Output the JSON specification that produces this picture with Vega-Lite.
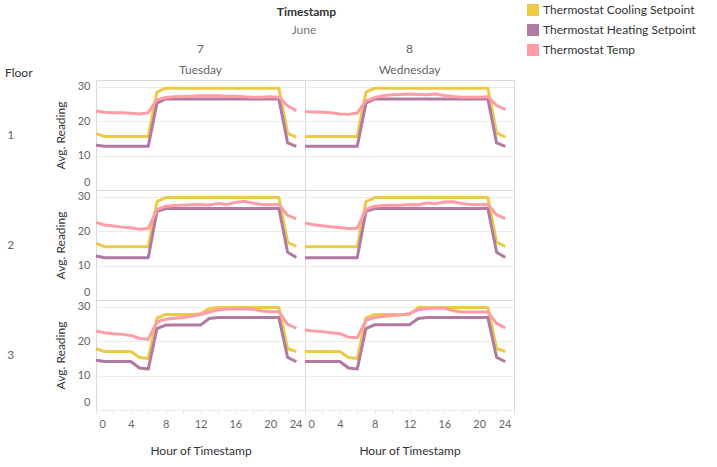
{
  "$schema": "https://vega.github.io/schema/vega-lite/v6.json",
  "padding": {"left": 5, "top": 3, "right": 5, "bottom": 5},
  "bounds": "flush",
  "title": {"text": "Timestamp", "fontSize": 12, "fontWeight": "bold", "color": "#333", "anchor": "middle", "offset": -16, "dx": -44},
  "config": {
    "font": "Lato",
    "view": {"stroke": "#d9d9d9"},
    "axis": {"labelColor": "#666", "labelFontSize": 11, "titleColor": "#333", "titleFontSize": 12, "titleFontWeight": "normal", "domain": false, "gridColor": "#ececec", "tickColor": "#e6e6e6"},
    "legend": {"labelFontSize": 12, "labelColor": "#333"}
  },
  "data": {"values": [
    {"Floor":1,"Date":"7 Tuesday","Hour":0,"Cooling Setpoint":16.4,"Heating Setpoint":13.0,"Temp":23.0},
    {"Floor":1,"Date":"7 Tuesday","Hour":1,"Cooling Setpoint":15.6,"Heating Setpoint":12.7,"Temp":22.6},
    {"Floor":1,"Date":"7 Tuesday","Hour":2,"Cooling Setpoint":15.6,"Heating Setpoint":12.7,"Temp":22.5},
    {"Floor":1,"Date":"7 Tuesday","Hour":3,"Cooling Setpoint":15.6,"Heating Setpoint":12.7,"Temp":22.5},
    {"Floor":1,"Date":"7 Tuesday","Hour":4,"Cooling Setpoint":15.6,"Heating Setpoint":12.7,"Temp":22.3},
    {"Floor":1,"Date":"7 Tuesday","Hour":5,"Cooling Setpoint":15.6,"Heating Setpoint":12.7,"Temp":22.1},
    {"Floor":1,"Date":"7 Tuesday","Hour":6,"Cooling Setpoint":15.6,"Heating Setpoint":12.7,"Temp":22.5},
    {"Floor":1,"Date":"7 Tuesday","Hour":7,"Cooling Setpoint":28.5,"Heating Setpoint":25.3,"Temp":26.2},
    {"Floor":1,"Date":"7 Tuesday","Hour":8,"Cooling Setpoint":29.6,"Heating Setpoint":26.5,"Temp":26.9},
    {"Floor":1,"Date":"7 Tuesday","Hour":9,"Cooling Setpoint":29.6,"Heating Setpoint":26.5,"Temp":27.1},
    {"Floor":1,"Date":"7 Tuesday","Hour":10,"Cooling Setpoint":29.6,"Heating Setpoint":26.5,"Temp":27.2},
    {"Floor":1,"Date":"7 Tuesday","Hour":11,"Cooling Setpoint":29.6,"Heating Setpoint":26.5,"Temp":27.3},
    {"Floor":1,"Date":"7 Tuesday","Hour":12,"Cooling Setpoint":29.6,"Heating Setpoint":26.5,"Temp":27.4},
    {"Floor":1,"Date":"7 Tuesday","Hour":13,"Cooling Setpoint":29.6,"Heating Setpoint":26.5,"Temp":27.4},
    {"Floor":1,"Date":"7 Tuesday","Hour":14,"Cooling Setpoint":29.6,"Heating Setpoint":26.5,"Temp":27.4},
    {"Floor":1,"Date":"7 Tuesday","Hour":15,"Cooling Setpoint":29.6,"Heating Setpoint":26.5,"Temp":27.3},
    {"Floor":1,"Date":"7 Tuesday","Hour":16,"Cooling Setpoint":29.6,"Heating Setpoint":26.5,"Temp":27.3},
    {"Floor":1,"Date":"7 Tuesday","Hour":17,"Cooling Setpoint":29.6,"Heating Setpoint":26.5,"Temp":27.1},
    {"Floor":1,"Date":"7 Tuesday","Hour":18,"Cooling Setpoint":29.6,"Heating Setpoint":26.5,"Temp":27.0},
    {"Floor":1,"Date":"7 Tuesday","Hour":19,"Cooling Setpoint":29.6,"Heating Setpoint":26.5,"Temp":27.0},
    {"Floor":1,"Date":"7 Tuesday","Hour":20,"Cooling Setpoint":29.6,"Heating Setpoint":26.5,"Temp":27.1},
    {"Floor":1,"Date":"7 Tuesday","Hour":21,"Cooling Setpoint":29.6,"Heating Setpoint":26.5,"Temp":27.0},
    {"Floor":1,"Date":"7 Tuesday","Hour":22,"Cooling Setpoint":16.5,"Heating Setpoint":13.7,"Temp":24.5},
    {"Floor":1,"Date":"7 Tuesday","Hour":23,"Cooling Setpoint":15.4,"Heating Setpoint":12.7,"Temp":23.1},
    {"Floor":1,"Date":"8 Wednesday","Hour":0,"Cooling Setpoint":15.6,"Heating Setpoint":12.7,"Temp":22.8},
    {"Floor":1,"Date":"8 Wednesday","Hour":1,"Cooling Setpoint":15.6,"Heating Setpoint":12.7,"Temp":22.7},
    {"Floor":1,"Date":"8 Wednesday","Hour":2,"Cooling Setpoint":15.6,"Heating Setpoint":12.7,"Temp":22.6},
    {"Floor":1,"Date":"8 Wednesday","Hour":3,"Cooling Setpoint":15.6,"Heating Setpoint":12.7,"Temp":22.5},
    {"Floor":1,"Date":"8 Wednesday","Hour":4,"Cooling Setpoint":15.6,"Heating Setpoint":12.7,"Temp":22.1},
    {"Floor":1,"Date":"8 Wednesday","Hour":5,"Cooling Setpoint":15.6,"Heating Setpoint":12.7,"Temp":22.0},
    {"Floor":1,"Date":"8 Wednesday","Hour":6,"Cooling Setpoint":15.6,"Heating Setpoint":12.7,"Temp":22.4},
    {"Floor":1,"Date":"8 Wednesday","Hour":7,"Cooling Setpoint":28.5,"Heating Setpoint":25.3,"Temp":25.9},
    {"Floor":1,"Date":"8 Wednesday","Hour":8,"Cooling Setpoint":29.6,"Heating Setpoint":26.5,"Temp":26.9},
    {"Floor":1,"Date":"8 Wednesday","Hour":9,"Cooling Setpoint":29.6,"Heating Setpoint":26.5,"Temp":27.4},
    {"Floor":1,"Date":"8 Wednesday","Hour":10,"Cooling Setpoint":29.6,"Heating Setpoint":26.5,"Temp":27.7},
    {"Floor":1,"Date":"8 Wednesday","Hour":11,"Cooling Setpoint":29.6,"Heating Setpoint":26.5,"Temp":27.8},
    {"Floor":1,"Date":"8 Wednesday","Hour":12,"Cooling Setpoint":29.6,"Heating Setpoint":26.5,"Temp":27.9},
    {"Floor":1,"Date":"8 Wednesday","Hour":13,"Cooling Setpoint":29.6,"Heating Setpoint":26.5,"Temp":27.8},
    {"Floor":1,"Date":"8 Wednesday","Hour":14,"Cooling Setpoint":29.6,"Heating Setpoint":26.5,"Temp":27.7},
    {"Floor":1,"Date":"8 Wednesday","Hour":15,"Cooling Setpoint":29.6,"Heating Setpoint":26.5,"Temp":27.9},
    {"Floor":1,"Date":"8 Wednesday","Hour":16,"Cooling Setpoint":29.6,"Heating Setpoint":26.5,"Temp":27.5},
    {"Floor":1,"Date":"8 Wednesday","Hour":17,"Cooling Setpoint":29.6,"Heating Setpoint":26.5,"Temp":27.2},
    {"Floor":1,"Date":"8 Wednesday","Hour":18,"Cooling Setpoint":29.6,"Heating Setpoint":26.5,"Temp":27.0},
    {"Floor":1,"Date":"8 Wednesday","Hour":19,"Cooling Setpoint":29.6,"Heating Setpoint":26.5,"Temp":27.0},
    {"Floor":1,"Date":"8 Wednesday","Hour":20,"Cooling Setpoint":29.6,"Heating Setpoint":26.5,"Temp":27.0},
    {"Floor":1,"Date":"8 Wednesday","Hour":21,"Cooling Setpoint":29.6,"Heating Setpoint":26.5,"Temp":27.1},
    {"Floor":1,"Date":"8 Wednesday","Hour":22,"Cooling Setpoint":16.6,"Heating Setpoint":13.7,"Temp":24.6},
    {"Floor":1,"Date":"8 Wednesday","Hour":23,"Cooling Setpoint":15.4,"Heating Setpoint":12.7,"Temp":23.4},
    {"Floor":2,"Date":"7 Tuesday","Hour":0,"Cooling Setpoint":16.5,"Heating Setpoint":12.8,"Temp":22.6},
    {"Floor":2,"Date":"7 Tuesday","Hour":1,"Cooling Setpoint":15.5,"Heating Setpoint":12.3,"Temp":21.8},
    {"Floor":2,"Date":"7 Tuesday","Hour":2,"Cooling Setpoint":15.5,"Heating Setpoint":12.3,"Temp":21.5},
    {"Floor":2,"Date":"7 Tuesday","Hour":3,"Cooling Setpoint":15.5,"Heating Setpoint":12.3,"Temp":21.2},
    {"Floor":2,"Date":"7 Tuesday","Hour":4,"Cooling Setpoint":15.5,"Heating Setpoint":12.3,"Temp":21.0},
    {"Floor":2,"Date":"7 Tuesday","Hour":5,"Cooling Setpoint":15.5,"Heating Setpoint":12.3,"Temp":20.6},
    {"Floor":2,"Date":"7 Tuesday","Hour":6,"Cooling Setpoint":15.5,"Heating Setpoint":12.3,"Temp":20.8},
    {"Floor":2,"Date":"7 Tuesday","Hour":7,"Cooling Setpoint":28.6,"Heating Setpoint":25.8,"Temp":26.3},
    {"Floor":2,"Date":"7 Tuesday","Hour":8,"Cooling Setpoint":29.8,"Heating Setpoint":26.6,"Temp":27.3},
    {"Floor":2,"Date":"7 Tuesday","Hour":9,"Cooling Setpoint":29.8,"Heating Setpoint":26.6,"Temp":27.5},
    {"Floor":2,"Date":"7 Tuesday","Hour":10,"Cooling Setpoint":29.8,"Heating Setpoint":26.6,"Temp":27.6},
    {"Floor":2,"Date":"7 Tuesday","Hour":11,"Cooling Setpoint":29.8,"Heating Setpoint":26.6,"Temp":27.7},
    {"Floor":2,"Date":"7 Tuesday","Hour":12,"Cooling Setpoint":29.8,"Heating Setpoint":26.6,"Temp":27.8},
    {"Floor":2,"Date":"7 Tuesday","Hour":13,"Cooling Setpoint":29.8,"Heating Setpoint":26.6,"Temp":27.6},
    {"Floor":2,"Date":"7 Tuesday","Hour":14,"Cooling Setpoint":29.8,"Heating Setpoint":26.6,"Temp":28.1},
    {"Floor":2,"Date":"7 Tuesday","Hour":15,"Cooling Setpoint":29.8,"Heating Setpoint":26.6,"Temp":27.8},
    {"Floor":2,"Date":"7 Tuesday","Hour":16,"Cooling Setpoint":29.8,"Heating Setpoint":26.6,"Temp":28.4},
    {"Floor":2,"Date":"7 Tuesday","Hour":17,"Cooling Setpoint":29.8,"Heating Setpoint":26.6,"Temp":28.7},
    {"Floor":2,"Date":"7 Tuesday","Hour":18,"Cooling Setpoint":29.8,"Heating Setpoint":26.6,"Temp":28.2},
    {"Floor":2,"Date":"7 Tuesday","Hour":19,"Cooling Setpoint":29.8,"Heating Setpoint":26.6,"Temp":27.8},
    {"Floor":2,"Date":"7 Tuesday","Hour":20,"Cooling Setpoint":29.8,"Heating Setpoint":26.6,"Temp":27.7},
    {"Floor":2,"Date":"7 Tuesday","Hour":21,"Cooling Setpoint":29.8,"Heating Setpoint":26.6,"Temp":27.8},
    {"Floor":2,"Date":"7 Tuesday","Hour":22,"Cooling Setpoint":16.8,"Heating Setpoint":13.9,"Temp":24.6},
    {"Floor":2,"Date":"7 Tuesday","Hour":23,"Cooling Setpoint":15.6,"Heating Setpoint":12.4,"Temp":23.6},
    {"Floor":2,"Date":"8 Wednesday","Hour":0,"Cooling Setpoint":15.5,"Heating Setpoint":12.3,"Temp":22.4},
    {"Floor":2,"Date":"8 Wednesday","Hour":1,"Cooling Setpoint":15.5,"Heating Setpoint":12.3,"Temp":21.9},
    {"Floor":2,"Date":"8 Wednesday","Hour":2,"Cooling Setpoint":15.5,"Heating Setpoint":12.3,"Temp":21.6},
    {"Floor":2,"Date":"8 Wednesday","Hour":3,"Cooling Setpoint":15.5,"Heating Setpoint":12.3,"Temp":21.3},
    {"Floor":2,"Date":"8 Wednesday","Hour":4,"Cooling Setpoint":15.5,"Heating Setpoint":12.3,"Temp":21.1},
    {"Floor":2,"Date":"8 Wednesday","Hour":5,"Cooling Setpoint":15.5,"Heating Setpoint":12.3,"Temp":20.8},
    {"Floor":2,"Date":"8 Wednesday","Hour":6,"Cooling Setpoint":15.5,"Heating Setpoint":12.3,"Temp":20.9},
    {"Floor":2,"Date":"8 Wednesday","Hour":7,"Cooling Setpoint":28.6,"Heating Setpoint":25.8,"Temp":26.4},
    {"Floor":2,"Date":"8 Wednesday","Hour":8,"Cooling Setpoint":29.8,"Heating Setpoint":26.6,"Temp":27.3},
    {"Floor":2,"Date":"8 Wednesday","Hour":9,"Cooling Setpoint":29.8,"Heating Setpoint":26.6,"Temp":27.5},
    {"Floor":2,"Date":"8 Wednesday","Hour":10,"Cooling Setpoint":29.8,"Heating Setpoint":26.6,"Temp":27.6},
    {"Floor":2,"Date":"8 Wednesday","Hour":11,"Cooling Setpoint":29.8,"Heating Setpoint":26.6,"Temp":27.6},
    {"Floor":2,"Date":"8 Wednesday","Hour":12,"Cooling Setpoint":29.8,"Heating Setpoint":26.6,"Temp":27.8},
    {"Floor":2,"Date":"8 Wednesday","Hour":13,"Cooling Setpoint":29.8,"Heating Setpoint":26.6,"Temp":27.7},
    {"Floor":2,"Date":"8 Wednesday","Hour":14,"Cooling Setpoint":29.8,"Heating Setpoint":26.6,"Temp":28.2},
    {"Floor":2,"Date":"8 Wednesday","Hour":15,"Cooling Setpoint":29.8,"Heating Setpoint":26.6,"Temp":28.0},
    {"Floor":2,"Date":"8 Wednesday","Hour":16,"Cooling Setpoint":29.8,"Heating Setpoint":26.6,"Temp":28.5},
    {"Floor":2,"Date":"8 Wednesday","Hour":17,"Cooling Setpoint":29.8,"Heating Setpoint":26.6,"Temp":28.6},
    {"Floor":2,"Date":"8 Wednesday","Hour":18,"Cooling Setpoint":29.8,"Heating Setpoint":26.6,"Temp":28.1},
    {"Floor":2,"Date":"8 Wednesday","Hour":19,"Cooling Setpoint":29.8,"Heating Setpoint":26.6,"Temp":27.8},
    {"Floor":2,"Date":"8 Wednesday","Hour":20,"Cooling Setpoint":29.8,"Heating Setpoint":26.6,"Temp":27.7},
    {"Floor":2,"Date":"8 Wednesday","Hour":21,"Cooling Setpoint":29.8,"Heating Setpoint":26.6,"Temp":27.8},
    {"Floor":2,"Date":"8 Wednesday","Hour":22,"Cooling Setpoint":16.8,"Heating Setpoint":13.9,"Temp":24.8},
    {"Floor":2,"Date":"8 Wednesday","Hour":23,"Cooling Setpoint":15.6,"Heating Setpoint":12.4,"Temp":23.7},
    {"Floor":3,"Date":"7 Tuesday","Hour":0,"Cooling Setpoint":17.9,"Heating Setpoint":14.5,"Temp":23.0},
    {"Floor":3,"Date":"7 Tuesday","Hour":1,"Cooling Setpoint":17.0,"Heating Setpoint":14.1,"Temp":22.5},
    {"Floor":3,"Date":"7 Tuesday","Hour":2,"Cooling Setpoint":17.0,"Heating Setpoint":14.1,"Temp":22.2},
    {"Floor":3,"Date":"7 Tuesday","Hour":3,"Cooling Setpoint":17.0,"Heating Setpoint":14.1,"Temp":22.0},
    {"Floor":3,"Date":"7 Tuesday","Hour":4,"Cooling Setpoint":17.0,"Heating Setpoint":14.1,"Temp":21.7},
    {"Floor":3,"Date":"7 Tuesday","Hour":5,"Cooling Setpoint":15.3,"Heating Setpoint":12.2,"Temp":20.8},
    {"Floor":3,"Date":"7 Tuesday","Hour":6,"Cooling Setpoint":15.0,"Heating Setpoint":11.9,"Temp":20.6},
    {"Floor":3,"Date":"7 Tuesday","Hour":7,"Cooling Setpoint":26.7,"Heating Setpoint":23.7,"Temp":25.6},
    {"Floor":3,"Date":"7 Tuesday","Hour":8,"Cooling Setpoint":27.8,"Heating Setpoint":24.7,"Temp":26.4},
    {"Floor":3,"Date":"7 Tuesday","Hour":9,"Cooling Setpoint":27.8,"Heating Setpoint":24.7,"Temp":26.7},
    {"Floor":3,"Date":"7 Tuesday","Hour":10,"Cooling Setpoint":27.8,"Heating Setpoint":24.7,"Temp":26.9},
    {"Floor":3,"Date":"7 Tuesday","Hour":11,"Cooling Setpoint":27.8,"Heating Setpoint":24.7,"Temp":27.3},
    {"Floor":3,"Date":"7 Tuesday","Hour":12,"Cooling Setpoint":28.0,"Heating Setpoint":24.7,"Temp":27.8},
    {"Floor":3,"Date":"7 Tuesday","Hour":13,"Cooling Setpoint":29.5,"Heating Setpoint":26.6,"Temp":28.5},
    {"Floor":3,"Date":"7 Tuesday","Hour":14,"Cooling Setpoint":29.8,"Heating Setpoint":26.9,"Temp":29.1},
    {"Floor":3,"Date":"7 Tuesday","Hour":15,"Cooling Setpoint":29.8,"Heating Setpoint":26.9,"Temp":29.3},
    {"Floor":3,"Date":"7 Tuesday","Hour":16,"Cooling Setpoint":29.8,"Heating Setpoint":26.9,"Temp":29.4},
    {"Floor":3,"Date":"7 Tuesday","Hour":17,"Cooling Setpoint":29.8,"Heating Setpoint":26.9,"Temp":29.4},
    {"Floor":3,"Date":"7 Tuesday","Hour":18,"Cooling Setpoint":29.8,"Heating Setpoint":26.9,"Temp":29.3},
    {"Floor":3,"Date":"7 Tuesday","Hour":19,"Cooling Setpoint":29.8,"Heating Setpoint":26.9,"Temp":28.8},
    {"Floor":3,"Date":"7 Tuesday","Hour":20,"Cooling Setpoint":29.8,"Heating Setpoint":26.9,"Temp":28.6},
    {"Floor":3,"Date":"7 Tuesday","Hour":21,"Cooling Setpoint":29.8,"Heating Setpoint":26.9,"Temp":28.6},
    {"Floor":3,"Date":"7 Tuesday","Hour":22,"Cooling Setpoint":17.9,"Heating Setpoint":15.3,"Temp":24.9},
    {"Floor":3,"Date":"7 Tuesday","Hour":23,"Cooling Setpoint":17.0,"Heating Setpoint":14.1,"Temp":23.8},
    {"Floor":3,"Date":"8 Wednesday","Hour":0,"Cooling Setpoint":17.0,"Heating Setpoint":14.1,"Temp":23.3},
    {"Floor":3,"Date":"8 Wednesday","Hour":1,"Cooling Setpoint":17.0,"Heating Setpoint":14.1,"Temp":23.0},
    {"Floor":3,"Date":"8 Wednesday","Hour":2,"Cooling Setpoint":17.0,"Heating Setpoint":14.1,"Temp":22.8},
    {"Floor":3,"Date":"8 Wednesday","Hour":3,"Cooling Setpoint":17.0,"Heating Setpoint":14.1,"Temp":22.5},
    {"Floor":3,"Date":"8 Wednesday","Hour":4,"Cooling Setpoint":17.0,"Heating Setpoint":14.1,"Temp":22.2},
    {"Floor":3,"Date":"8 Wednesday","Hour":5,"Cooling Setpoint":15.3,"Heating Setpoint":12.2,"Temp":21.2},
    {"Floor":3,"Date":"8 Wednesday","Hour":6,"Cooling Setpoint":15.0,"Heating Setpoint":11.9,"Temp":21.0},
    {"Floor":3,"Date":"8 Wednesday","Hour":7,"Cooling Setpoint":26.7,"Heating Setpoint":23.7,"Temp":26.1},
    {"Floor":3,"Date":"8 Wednesday","Hour":8,"Cooling Setpoint":27.8,"Heating Setpoint":24.8,"Temp":26.9},
    {"Floor":3,"Date":"8 Wednesday","Hour":9,"Cooling Setpoint":27.8,"Heating Setpoint":24.8,"Temp":27.2},
    {"Floor":3,"Date":"8 Wednesday","Hour":10,"Cooling Setpoint":27.8,"Heating Setpoint":24.8,"Temp":27.5},
    {"Floor":3,"Date":"8 Wednesday","Hour":11,"Cooling Setpoint":27.8,"Heating Setpoint":24.8,"Temp":27.6},
    {"Floor":3,"Date":"8 Wednesday","Hour":12,"Cooling Setpoint":27.8,"Heating Setpoint":24.8,"Temp":28.1},
    {"Floor":3,"Date":"8 Wednesday","Hour":13,"Cooling Setpoint":29.8,"Heating Setpoint":26.6,"Temp":29.1},
    {"Floor":3,"Date":"8 Wednesday","Hour":14,"Cooling Setpoint":29.8,"Heating Setpoint":26.9,"Temp":29.5},
    {"Floor":3,"Date":"8 Wednesday","Hour":15,"Cooling Setpoint":29.8,"Heating Setpoint":26.9,"Temp":29.6},
    {"Floor":3,"Date":"8 Wednesday","Hour":16,"Cooling Setpoint":29.8,"Heating Setpoint":26.9,"Temp":29.6},
    {"Floor":3,"Date":"8 Wednesday","Hour":17,"Cooling Setpoint":29.8,"Heating Setpoint":26.9,"Temp":28.9},
    {"Floor":3,"Date":"8 Wednesday","Hour":18,"Cooling Setpoint":29.8,"Heating Setpoint":26.9,"Temp":28.5},
    {"Floor":3,"Date":"8 Wednesday","Hour":19,"Cooling Setpoint":29.8,"Heating Setpoint":26.9,"Temp":28.5},
    {"Floor":3,"Date":"8 Wednesday","Hour":20,"Cooling Setpoint":29.8,"Heating Setpoint":26.9,"Temp":28.5},
    {"Floor":3,"Date":"8 Wednesday","Hour":21,"Cooling Setpoint":29.8,"Heating Setpoint":26.9,"Temp":28.5},
    {"Floor":3,"Date":"8 Wednesday","Hour":22,"Cooling Setpoint":17.9,"Heating Setpoint":15.3,"Temp":25.2},
    {"Floor":3,"Date":"8 Wednesday","Hour":23,"Cooling Setpoint":17.0,"Heating Setpoint":14.1,"Temp":23.9}
  ]},
  "transform": [{"fold": ["Cooling Setpoint", "Heating Setpoint", "Temp"], "as": ["Measure", "Reading"]}],
  "spacing": 0,
  "facet": {
    "row": {"field": "Floor", "type": "ordinal", "header": {"title": "Floor", "titleOrient": "left", "titleAnchor": "end", "titleAngle": 0, "titleBaseline": "bottom", "titlePadding": -63, "titleFontWeight": "normal", "titleFontSize": 12, "titleColor": "#333", "labelAngle": 0, "labelColor": "#666", "labelFontSize": 12, "labelPadding": 33, "labelAlign": "right"}},
    "column": {"field": "Date", "type": "ordinal", "header": {"title": "June", "titleAnchor": "middle", "titlePadding": -4, "titleColor": "#777", "titleFontWeight": "normal", "titleFontSize": 12, "labelExpr": "split(datum.value, ' ')", "labelColor": "#666", "labelFontSize": 12, "labelLineHeight": 21, "labelPadding": 3}}
  },
  "spec": {
    "width": 209,
    "height": 110,
    "mark": {"type": "line", "strokeWidth": 3, "strokeJoin": "round"},
    "encoding": {
      "x": {"field": "Hour", "type": "quantitative", "scale": {"domain": [0, 24], "nice": false}, "axis": {"values": [0,2,4,6,8,10,12,14,16,18,20,22,24], "labelExpr": "datum.value % 4 == 0 ? datum.label : ''", "title": "Hour of Timestamp", "grid": false, "labelFlush": true, "labelFlushOffset": -3, "tickSize": 4, "labelPadding": 4, "titlePadding": 16}},
      "y": {"field": "Reading", "type": "quantitative", "scale": {"domain": [0, 32], "nice": false}, "axis": {"values": [0, 10, 20, 30], "title": "Avg. Reading", "grid": true, "ticks": false, "labelFlush": true, "labelFlushOffset": -3, "labelPadding": 6, "titlePadding": 10}},
      "color": {"field": "Measure", "type": "nominal", "scale": {"domain": ["Cooling Setpoint", "Heating Setpoint", "Temp"], "range": ["#EDC948", "#B07AA1", "#FF9DA7"]}, "legend": {"title": null, "orient": "none", "legendX": 431, "legendY": -77, "symbolType": "square", "symbolSize": 36, "symbolStrokeWidth": 6, "rowPadding": 6, "clipHeight": 14, "labelExpr": "'Thermostat ' + datum.label"}}
    }
  }
}
